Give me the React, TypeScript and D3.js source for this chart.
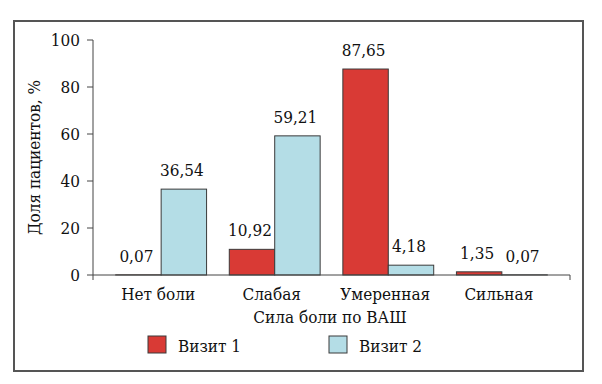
import * as d3 from 'd3';
import React from 'react';

// pain intensity categories (VAS) and share of patients per visit, %
const categories = ['Нет боли', 'Слабая', 'Умеренная', 'Сильная'];
const seriesNames = ['Визит 1', 'Визит 2'];
const visit1 = [0.07, 10.92, 87.65, 1.35];
const visit2 = [36.54, 59.21, 4.18, 0.07];
const yTicks = [0, 20, 40, 60, 80, 100];

const colors = ['#d93a35', '#b4dde6'];
// Cyrillic-capable serif available offline
const font = "'DejaVu Serif Condensed', 'DejaVu Serif', serif";

export default function App() {
  const width = 602;
  const height = 384;
  const m = { left: 93, right: 570, top: 40, bottom: 275 };

  const x = d3.scaleBand<string>()
    .domain(categories)
    .range([m.left, m.right])
    .paddingInner(0.2)
    .paddingOuter(0.2);
  const xs = d3.scaleBand<string>()
    .domain(seriesNames)
    .range([0, x.bandwidth()]);
  const y = d3.scaleLinear().domain([0, 100]).range([m.bottom, m.top]);

  const series = [visit1, visit2];
  const fmt = (v: number) => v.toFixed(2).replace('.', ',');
  const txt = { fontFamily: font, fontSize: '17px', fill: '#111', fontStretch: 'condensed' };

  return (
    <svg width={width} height={height}
      style={{ position: 'absolute', left: 0, top: 0, background: '#fff', fontFamily: font }}>
      {/* outer frame */}
      <rect x={14} y={21} width={569} height={350} fill="none" stroke="#555" strokeWidth={2} />

      {/* y axis */}
      <line x1={m.left} x2={m.left} y1={m.top} y2={m.bottom + 5} stroke="#444" />
      {yTicks.map(t => (
        <g key={t}>
          <line x1={m.left - 6} x2={m.left} y1={y(t)} y2={y(t)} stroke="#444" />
          <text x={80} y={y(t)} dy="0.35em" textAnchor="end" style={txt}>{t}</text>
        </g>
      ))}
      <text transform={`translate(40,${(m.top + m.bottom) / 2}) rotate(-90)`}
        textAnchor="middle" style={txt}>Доля пациентов, %</text>

      {/* bars */}
      {categories.map((c, i) => (
        <g key={c}>
          {series.map((s, j) => {
            const bx = (x(c) ?? 0) + (xs(seriesNames[j]) ?? 0);
            const bw = xs.bandwidth();
            return (
              <g key={j}>
                <rect x={bx} y={y(s[i])} width={bw} height={y(0) - y(s[i])}
                  fill={colors[j]} stroke="#3a3a3a" strokeWidth={1} />
                <text x={bx + bw / 2 - 2} y={y(s[i]) - 13} textAnchor="middle"
                  style={txt}>{fmt(s[i])}</text>
              </g>
            );
          })}
          <text x={(x(c) ?? 0) + x.bandwidth() / 2 - 3} y={300} textAnchor="middle"
            style={txt}>{c}</text>
        </g>
      ))}

      {/* x axis */}
      <line x1={m.left} x2={m.right} y1={m.bottom} y2={m.bottom} stroke="#444" />
      <line x1={m.right} x2={m.right} y1={m.bottom} y2={m.bottom + 5} stroke="#444" />
      <text x={330} y={323} textAnchor="middle" style={txt}>Сила боли по ВАШ</text>

      {/* legend */}
      {seriesNames.map((n, j) => (
        <g key={n} transform={`translate(${148 + j * 181},336)`}>
          <rect x={0} y={0} width={18} height={17} fill={colors[j]} stroke="#3a3a3a" />
          <text x={30} y={16} style={txt}>{n}</text>
        </g>
      ))}
    </svg>
  );
}
